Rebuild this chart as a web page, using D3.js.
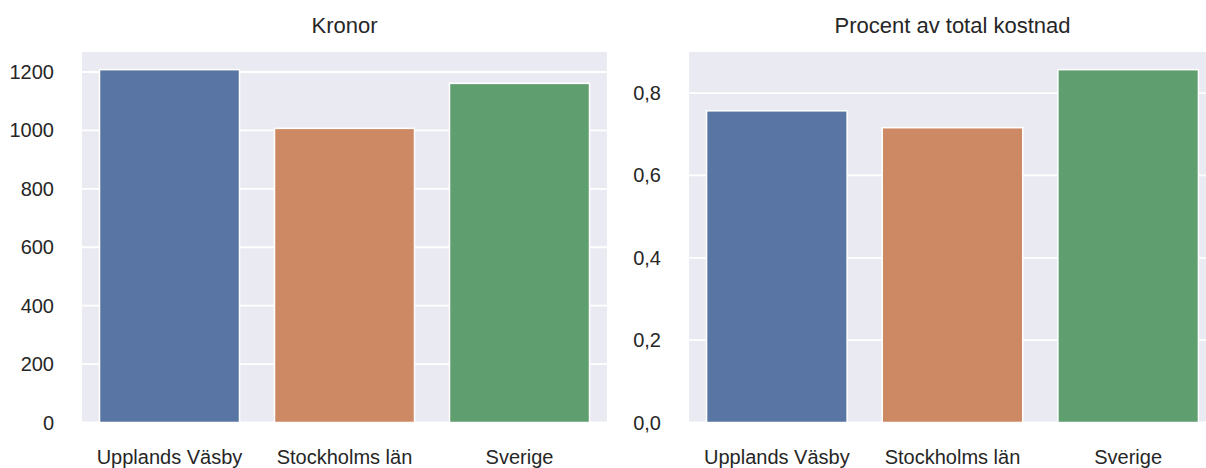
<!DOCTYPE html>
<html>
<head>
<meta charset="utf-8">
<title>Kronor / Procent</title>
<script src="https://cdnjs.cloudflare.com/ajax/libs/d3/7.8.5/d3.min.js"></script>
<style>
  body { margin: 0; background: #fff; }
  svg { display: block; font-family: "Liberation Sans", Arial, sans-serif; }
</style>
</head>
<body>
<svg id="chart" width="1206" height="468"></svg>
<script>
const categories = ['Upplands Väsby', 'Stockholms län', 'Sverige'];
const kronor = [1208, 1007, 1161];
const procent = [0.757, 0.716, 0.857];
const kronorTicks = [0, 200, 400, 600, 800, 1000, 1200];
const procentTicks = [0, 0.2, 0.4, 0.6, 0.8];
const colors = ['#5975a4', '#cc8963', '#5f9e6e'];

const sv = d3.formatLocale({decimal: ',', thousands: '\u00a0', grouping: [3], currency: ['', ' kr']});

const svg = d3.select('#chart');
const plotTop = 52, plotBottom = 422.5;

function panel(x0, x1, values, ticks, fmt, title) {
  const x = d3.scaleBand().domain(categories).range([x0, x1]).paddingInner(0.2).paddingOuter(0.1);
  const y = d3.scaleLinear().domain([0, d3.max(values) * 1.05]).range([plotBottom, plotTop]);
  const g = svg.append('g');

  g.append('rect')
    .attr('x', x0).attr('y', plotTop)
    .attr('width', x1 - x0).attr('height', plotBottom - plotTop)
    .attr('fill', '#eaeaf2');

  // horizontal grid only
  g.selectAll('line.grid')
    .data(ticks)
    .enter()
    .append('line')
    .attr('x1', x0).attr('x2', x1)
    .attr('y1', d => y(d)).attr('y2', d => y(d))
    .attr('stroke', '#fff')
    .attr('stroke-width', 1.8);

  g.selectAll('rect.bar')
    .data(values)
    .enter()
    .append('rect')
    .attr('x', (d, i) => x(categories[i]))
    .attr('y', d => y(d))
    .attr('width', x.bandwidth())
    .attr('height', d => plotBottom - y(d))
    .attr('fill', (d, i) => colors[i])
    .attr('stroke', '#fff')
    .attr('stroke-width', 1.5);

  g.selectAll('text.ytick')
    .data(ticks)
    .enter()
    .append('text')
    .attr('x', x0 - 28)
    .attr('y', d => y(d))
    .attr('dy', '0.35em')
    .attr('text-anchor', 'end')
    .attr('font-size', 20)
    .attr('fill', '#262626')
    .text(fmt);

  g.selectAll('text.xtick')
    .data(categories)
    .enter()
    .append('text')
    .attr('x', d => x(d) + x.bandwidth() / 2)
    .attr('y', 464)
    .attr('text-anchor', 'middle')
    .attr('font-size', 20)
    .attr('fill', '#262626')
    .text(d => d);

  g.append('text')
    .attr('x', (x0 + x1) / 2)
    .attr('y', 33)
    .attr('text-anchor', 'middle')
    .attr('font-size', 22)
    .attr('fill', '#262626')
    .text(title);
}

panel(82, 607, kronor, kronorTicks, d => sv.format('d')(d), 'Kronor');
panel(689, 1216, procent, procentTicks, d => sv.format('.1f')(d), 'Procent av total kostnad');
</script>
</body>
</html>
